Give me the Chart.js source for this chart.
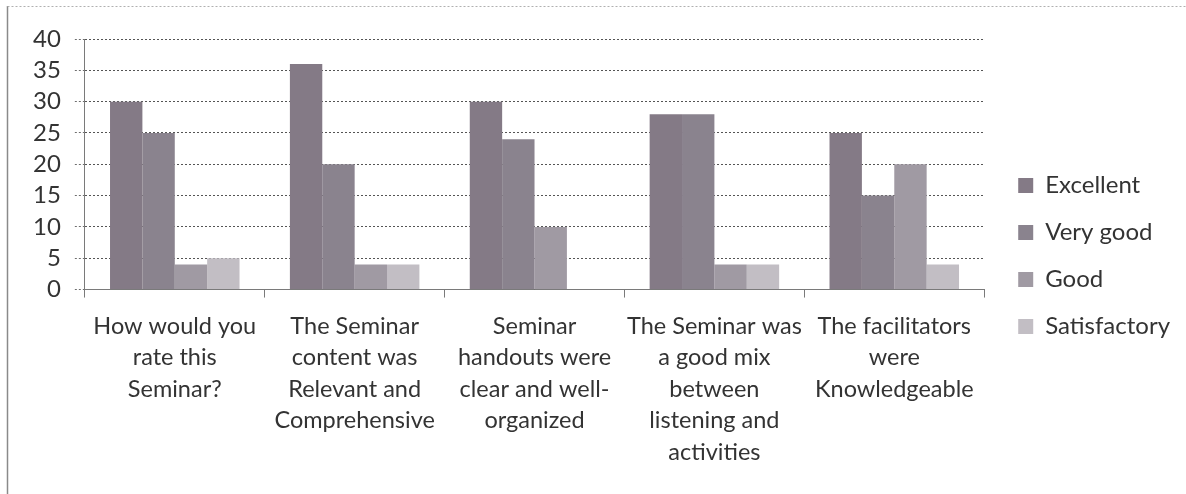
<!DOCTYPE html>
<html>
<head>
<meta charset="utf-8">
<script src="https://cdn.jsdelivr.net/npm/chart.js@4.4.1/dist/chart.umd.min.js"></script>
<style>
  html, body { margin: 0; padding: 0; background: #ffffff; }
  #wrap { position: relative; width: 1186px; height: 494px; }
</style>
</head>
<body>
<div id="wrap"><canvas id="c" width="1186" height="494"></canvas></div>
<script>
const categories = [
  ["How would you", "rate this", "Seminar?"],
  ["The Seminar", "content was", "Relevant and", "Comprehensive"],
  ["Seminar", "handouts were", "clear and well-", "organized"],
  ["The Seminar was", "a good mix", "between", "listening and", "activities"],
  ["The facilitators", "were", "Knowledgeable"]
];
const seriesNames = ["Excellent", "Very good", "Good", "Satisfactory"];
const excellent    = [30, 36, 30, 28, 25];
const veryGood     = [25, 20, 24, 28, 15];
const good         = [4, 4, 10, 4, 20];
const satisfactory = [5, 4, 0, 4, 4];
const yTicks = [0, 5, 10, 15, 20, 25, 30, 35, 40];

const colors = ["#847a86", "#8a838e", "#a09aa3", "#c2bec4"];
const values = [excellent, veryGood, good, satisfactory];

const framePlugin = {
  id: 'frame',
  beforeDraw(chart) {
    const ctx = chart.ctx;
    ctx.save();
    ctx.fillStyle = '#ffffff';
    ctx.fillRect(0, 0, chart.width, chart.height);
    ctx.strokeStyle = '#8a8a8a';
    ctx.lineWidth = 1.5;
    ctx.beginPath();
    ctx.moveTo(7.5, 6);
    ctx.lineTo(7.5, chart.height);
    ctx.stroke();
    ctx.setLineDash([2, 2]);
    ctx.lineWidth = 1;
    ctx.strokeStyle = '#b0b0b0';
    ctx.beginPath();
    ctx.moveTo(7.5, 6.5);
    ctx.lineTo(chart.width, 6.5);
    ctx.stroke();
    ctx.restore();
  }
};

const fontFamily = "Lato, 'Open Sans', sans-serif";

new Chart(document.getElementById('c'), {
  type: 'bar',
  data: {
    labels: categories,
    datasets: seriesNames.map((name, i) => ({
      label: name,
      data: values[i],
      backgroundColor: colors[i],
      borderWidth: 0,
      barPercentage: 1.0,
      categoryPercentage: 0.72
    }))
  },
  options: {
    responsive: false,
    animation: false,
    layout: { padding: { left: 33, top: 39, right: 6, bottom: 21 } },
    plugins: {
      legend: {
        position: 'right',
        align: 'center',
        labels: {
          boxWidth: 15,
          boxHeight: 15,
          padding: 23,
          color: '#333333',
          font: { family: fontFamily, size: 24 }
        }
      },
      tooltip: { enabled: false }
    },
    scales: {
      x: {
        offset: true,
        afterFit(scale) {
          scale.paddingLeft = 0;
          scale.paddingRight = 0;
          scale.height = scale.height - scale.options.ticks.padding + 5;
        },
        grid: {
          display: true,
          offset: true,
          drawOnChartArea: false,
          drawTicks: true,
          tickLength: 8,
          color: '#7a7a7a'
        },
        border: { display: true, color: '#7a7a7a', width: 1 },
        ticks: {
          color: '#333333',
          padding: 13,
          maxRotation: 0,
          autoSkip: false,
          font: { family: fontFamily, size: 23.5, lineHeight: 1.34 }
        }
      },
      y: {
        min: 0,
        max: 40,
        afterBuildTicks(scale) { scale.ticks = yTicks.map(v => ({ value: v })); },
        afterFit(scale) { scale.width -= scale.options.ticks.padding; },
        grid: {
          color: '#555555',
          lineWidth: 1,
          tickLength: 10,
          tickBorderDash: [2, 2],
          tickColor: '#6e6e6e'
        },
        border: { display: true, color: '#7a7a7a', width: 1, dash: [2, 2] },
        ticks: {
          color: '#333333',
          padding: 14,
          autoSkip: false,
          font: { family: fontFamily, size: 24 }
        }
      },
      gap: {
        type: 'linear',
        position: 'right',
        display: true,
        grid: { display: false, drawOnChartArea: false },
        border: { display: false },
        ticks: { display: false },
        afterFit(scale) { scale.width = 11; }
      }
    }
  },
  plugins: [framePlugin]
});
</script>
</body>
</html>
